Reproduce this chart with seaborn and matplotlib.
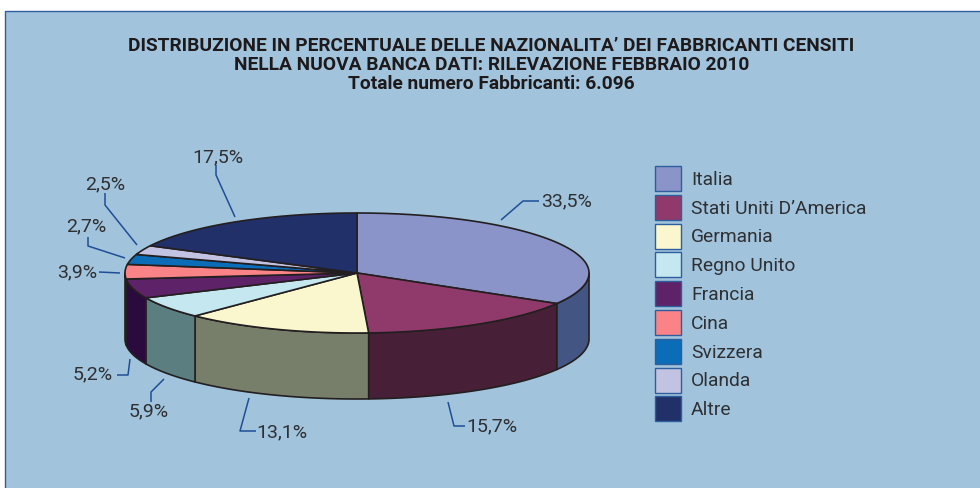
import numpy as np
import seaborn as sns
import matplotlib
matplotlib.use("Agg")
import matplotlib.pyplot as plt
from matplotlib.patches import Patch, Rectangle

# --- data ---
categories = ["Italia", "Stati Uniti D\u2019America", "Germania", "Regno Unito", "Francia",
              "Cina", "Svizzera", "Olanda", "Altre"]
shares = [33.5, 15.7, 13.1, 5.9, 5.2, 3.9, 2.7, 2.5, 17.5]
value_labels = ["33,5%", "15,7%", "13,1%", "5,9%", "5,2%", "3,9%", "2,7%", "2,5%", "17,5%"]
top_colors = ["#8A94C8", "#903A6B", "#FAF7CE", "#C5E7F0", "#5E2268",
              "#F98386", "#0B6CB8", "#C2C3E2", "#22306A"]
side_colors = ["#435582", "#472038", "#777F6B", "#5B7E80", "#2B0A3D",
               "#7A4043", "#0A3F6B", "#70728A", "#14193A"]
title_lines = ["DISTRIBUZIONE IN PERCENTUALE DELLE NAZIONALITA\u2019 DEI FABBRICANTI CENSITI",
               "NELLA NUOVA BANCA DATI: RILEVAZIONE FEBBRAIO 2010",
               "Totale numero Fabbricanti: 6.096"]

# --- layout ---
sns.set_theme(style="white")
plt.rcParams["font.family"] = ["Roboto", "DejaVu Sans"]
BG, EDGE, LEAD, INK, RIM = "#A1C3DC", "#2F5E9E", "#1F4E96", "#2E3033", "#231F20"
CX, CY, RX, RY, DEPTH = 357.0, 273.0, 232.0, 60.0, 66.0
title_pos = [(491.5, 50.7), (491.5, 70), (491.5, 89.3)]
label_pos = [(541.5, 201, "left"), (466, 426, "left"), (256, 432, "left"), (149, 411, "center"),
             (113, 374, "right"), (97, 272, "right"), (106, 226, "right"), (125, 184, "right"),
             (218, 157, "center")]
leaders = [[(501, 220), (523, 201), (539, 201)], [(448, 402), (454, 426), (465, 426)],
           [(249, 398), (240, 431), (256, 431)], [(164, 379), (151, 392), (151, 402)],
           [(130, 359), (128, 375), (117, 375)], [(120, 273), (99, 272)],
           [(125, 258), (88, 246), (88, 237)], [(137, 245), (105, 205), (105, 193)],
           [(235, 217), (216, 175), (216, 165)]]

fig = plt.figure(figsize=(9.8, 4.88), dpi=100, facecolor="white")
ax = fig.add_axes([0, 0, 1, 1])
ax.set_xlim(0, 980)
ax.set_ylim(488, 0)
ax.axis("off")
ax.add_patch(Rectangle((5, 10.5), 1000, 500, fc=BG, ec=EDGE, lw=1.0, zorder=0))


def rim(a0, a1, n=120):
    t = np.radians(np.linspace(a0, a1, n))
    return CX + RX * np.sin(t), CY - RY * np.cos(t)


edges = np.cumsum([0.0] + shares) / sum(shares) * 360.0

# side walls: the visible front half only (clockwise angle from the top, 90..270)
for i in range(len(shares)):
    a0, a1 = max(edges[i], 90.0), min(edges[i + 1], 270.0)
    if a1 <= a0:
        continue
    x, y = rim(a0, a1)
    ax.fill(np.r_[x, x[::-1]], np.r_[y, y[::-1] + DEPTH], fc=side_colors[i], ec=RIM, lw=1.2,
            joinstyle="round", zorder=2)

# top faces
for i in range(len(shares)):
    x, y = rim(edges[i], edges[i + 1])
    ax.fill(np.r_[CX, x], np.r_[CY, y], fc=top_colors[i], ec=RIM, lw=1.2,
            joinstyle="round", zorder=3)

# leader lines and value labels
for pts, (tx, ty, ha), lab in zip(leaders, label_pos, value_labels):
    p = np.array(pts)
    ax.plot(p[:, 0], p[:, 1], color=LEAD, lw=1.1, zorder=4, solid_capstyle="butt")
    ax.text(tx, ty, lab, ha=ha, va="center", fontsize=14, color=INK, zorder=5)

# title
for (tx, ty), line in zip(title_pos, title_lines):
    ax.text(tx, ty, line, ha="center", va="baseline", fontsize=13.8, fontweight="bold",
            color="#1E1A1C")

# legend
LEG_FS = 13.9
fs_px = LEG_FS * 100 / 72
handles = [Patch(fc=c, ec=EDGE, lw=1.0, label=n) for c, n in zip(top_colors, categories)]
leg = ax.legend(handles=handles, loc="upper left", bbox_to_anchor=(655 / 980, 1 - 166 / 488),
                bbox_transform=fig.transFigure, frameon=False, fontsize=LEG_FS, labelcolor=INK,
                borderpad=0, borderaxespad=0, handlelength=26 / fs_px,
                handleheight=(25 / fs_px - 0.245) / 0.65,
                handletextpad=10 / fs_px, labelspacing=3.8 / fs_px)

fig.savefig("out.png", dpi=100, facecolor="white")
